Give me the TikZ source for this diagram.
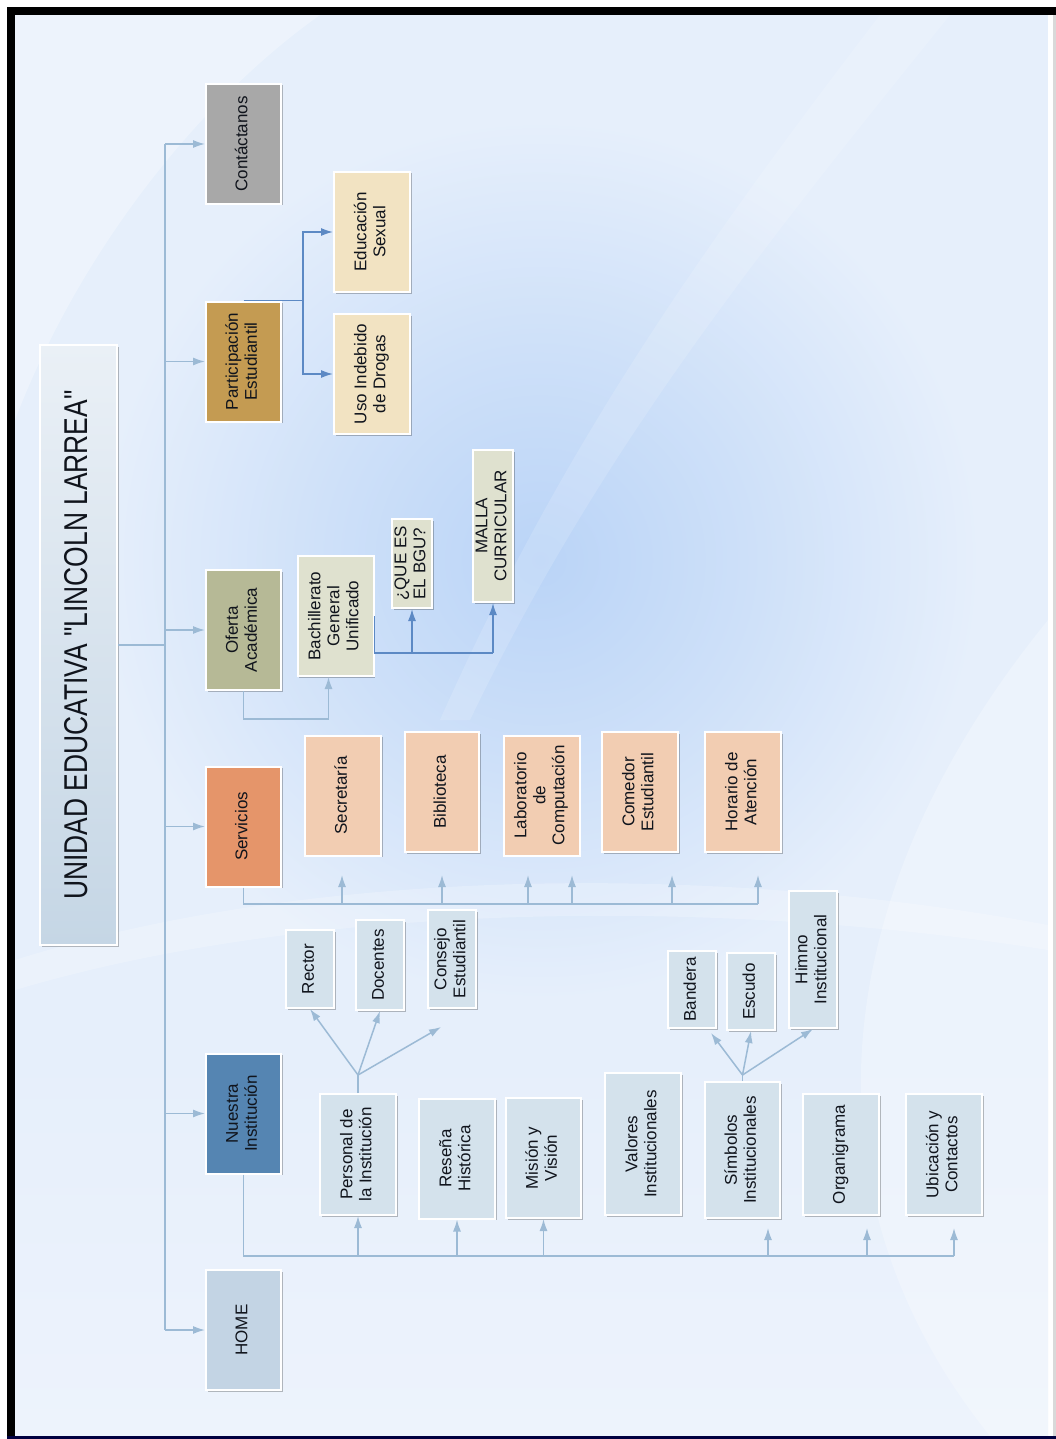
\documentclass[tikz,border=0pt]{standalone}
\usepackage{fontspec}
\setmainfont{Liberation Sans}
\newfontfamily\titlefont[FakeStretch=0.8]{Liberation Sans}
\usetikzlibrary{arrows.meta, positioning, calc, shadows}

\definecolor{bgmid}{HTML}{E6EFFB}
\definecolor{bgbot}{HTML}{EDF3FC}
\definecolor{glow}{HTML}{BAD4F7}
\definecolor{lnk}{HTML}{9CBAD5}
\definecolor{dlnk}{HTML}{5C89C4}
\definecolor{txt}{HTML}{10141C}
\definecolor{cgray}{HTML}{A8A8A8}
\definecolor{cpart}{HTML}{C49B52}
\definecolor{cofer}{HTML}{B6B996}
\definecolor{cserv}{HTML}{E5956A}
\definecolor{cnues}{HTML}{5585B2}
\definecolor{chome}{HTML}{C3D4E4}
\definecolor{kpart}{HTML}{F2E3C2}
\definecolor{kofer}{HTML}{DFE1CF}
\definecolor{kserv}{HTML}{F2CDB2}
\definecolor{knues}{HTML}{D4E2EC}
\definecolor{ttop}{HTML}{EAF0F6}
\definecolor{tbot}{HTML}{C5D6E5}

\pgfdeclareradialshading{glowshade}{\pgfpoint{0bp}{0bp}}{%
  color(0bp)=(glow); color(12bp)=(glow!55!bgmid); color(25bp)=(bgmid); color(50bp)=(bgmid)}

% vertical (rotated) label
\newcommand{\vt}[1]{\rotatebox{90}{\begin{tabular}{@{}c@{}}#1\end{tabular}}}

\tikzset{
  box/.style={rectangle, draw=white, line width=2pt, inner sep=0pt, text=txt,
    font=\fontsize{17}{19}\selectfont,
    drop shadow={shadow xshift=1.5pt, shadow yshift=-1.5pt, opacity=0.25, fill=black}},
  lvl/.style={box, minimum width=75pt, minimum height=120pt},
  sub/.style={box, minimum width=76pt, minimum height=120pt},
  tiny/.style={box, minimum width=48pt},
}

\begin{document}
\begin{tikzpicture}[x=1pt, y=-1pt, >={Latex[length=12pt, width=8pt]},
  link/.style={draw=lnk, line width=1.5pt},
  arr/.style={link, ->},
  dlink/.style={draw=dlnk, line width=1.5pt},
  darr/.style={dlink, ->}]

\useasboundingbox (0,0) rectangle (1056,1439);

% Background
\fill[white] (0,0) rectangle (1056,1439);
\fill[bgmid] (15,15) rectangle (1048,1436);
\shade[shading=glowshade] (540,560) circle[radius=440pt];
\shade[top color=bgmid, bottom color=bgbot] (15,1050) rectangle (1048,1436);
\fill[white, opacity=0.22] (15,960) .. controls (300,870) and (700,860) .. (1048,925)
  -- (1048,950) .. controls (700,895) and (300,905) .. (15,990) -- cycle;
\fill[white, opacity=0.15] (880,15) .. controls (700,250) and (560,450) .. (440,720)
  -- (470,720) .. controls (600,450) and (760,250) .. (950,15) -- cycle;
\fill[white, opacity=0.25] (1048,620) .. controls (820,900) and (800,1200) .. (990,1436)
  -- (1048,1436) -- cycle;
\fill[white, opacity=0.3] (15,420) .. controls (80,250) and (200,100) .. (320,15)
  -- (15,15) -- cycle;

% Frame
\fill[black] (7,7) rectangle (1056,15);
\fill[black] (7,7) rectangle (15,1439);
\fill[black!75!blue] (7,1436) rectangle (1056,1439);
\fill[black!15] (1053,15) rectangle (1056,1436);

% Title
\node[box, top color=ttop, bottom color=tbot, minimum width=77pt, minimum height=600pt]
  (title) at (78.5,645) {\vt{\titlefont\fontsize{33}{36}\selectfont UNIDAD EDUCATIVA "LINCOLN LARREA"}};

% Main menu
\node[lvl, fill=cgray] (cont) at (243.5,144) {\vt{Contáctanos}};
\node[lvl, fill=cpart] (partic) at (243.5,361.5) {\vt{Participación\\Estudiantil}};
\node[lvl, fill=cofer] (oferta) at (243.5,630) {\vt{Oferta\\Académica}};
\node[lvl, fill=cserv] (serv) at (243.5,826.5) {\vt{Servicios}};
\node[lvl, fill=cnues] (nuestra) at (243.5,1113.5) {\vt{Nuestra\\Institución}};
\node[lvl, fill=chome] (home) at (243.5,1330) {\vt{HOME}};

% Participacion Estudiantil
\node[sub, fill=kpart] (sex) at (372,232) {\vt{Educación\\Sexual}};
\node[sub, fill=kpart] (drog) at (372,374) {\vt{Uso Indebido\\de Drogas}};

% Oferta Academica
\node[sub, fill=kofer] (bgu) at (335.5,616) {\vt{Bachillerato\\General\\Unificado}};
\node[box, fill=kofer, minimum width=40pt, minimum height=89pt] (que) at (412,563.5) {\vt{¿QUE ES\\EL BGU?}};
\node[box, fill=kofer, minimum width=40pt, minimum height=152pt] (malla) at (493,526) {\vt{MALLA\\CURRICULAR}};

% Servicios
\node[sub, fill=kserv] (secr) at (343,795.5) {\vt{Secretaría}};
\node[sub, fill=kserv, minimum width=74pt] (bibl) at (442,792) {\vt{Biblioteca}};
\node[sub, fill=kserv] (lab) at (541.5,795.5) {\vt{Laboratorio\\de\\Computación}};
\node[sub, fill=kserv] (com) at (640,792) {\vt{Comedor\\Estudiantil}};
\node[sub, fill=kserv] (hor) at (743,792) {\vt{Horario de\\Atención}};

% Nuestra Institucion
\node[sub, fill=knues, minimum height=121pt] (pers) at (358,1154.5) {\vt{Personal de\\la Institución}};
\node[sub, fill=knues] (res) at (457,1158.5) {\vt{Reseña\\Histórica}};
\node[sub, fill=knues, minimum width=75pt] (mis) at (543.5,1158) {\vt{Misión y\\Visión}};
\node[sub, fill=knues, minimum height=142pt] (val) at (643,1144) {\vt{Valores\\Institucionales}};
\node[sub, fill=knues, minimum width=75pt, minimum height=136pt] (simb) at (742.5,1150) {\vt{Símbolos\\Institucionales}};
\node[sub, fill=knues, minimum height=121pt] (org) at (841,1154.5) {\vt{Organigrama}};
\node[sub, fill=knues, minimum height=121pt] (ubi) at (944,1154.5) {\vt{Ubicación y\\Contactos}};

% Personal de la Institucion
\node[tiny, fill=knues, minimum height=78pt] (rec) at (310,969) {\vt{Rector}};
\node[tiny, fill=knues, minimum height=90pt] (doc) at (380,965) {\vt{Docentes}};
\node[tiny, fill=knues, minimum height=98pt] (cons) at (452,959) {\vt{Consejo\\Estudiantil}};

% Simbolos Institucionales
\node[tiny, fill=knues, minimum height=77pt] (band) at (692,989.5) {\vt{Bandera}};
\node[tiny, fill=knues, minimum height=77pt] (esc) at (751,991.5) {\vt{Escudo}};
\node[tiny, fill=knues, minimum height=137pt] (himno) at (813,959.5) {\vt{Himno\\Institucional}};

% Trunk
\coordinate (trunk) at (165,645);
\draw[link] (title.east) -- (trunk);
\draw[link] (trunk |- cont.west) -- (trunk |- home.west);
\foreach \n in {cont, partic, oferta, serv, nuestra, home}
  \draw[arr] (trunk |- \n.west) -- (\n.west);

% Participacion links
\draw[dlink] (partic.north) -- ++(59.5,0) coordinate (pj);
\draw[darr] (pj) |- (sex.west);
\draw[darr] (pj) |- (drog.west);

% Oferta links
\draw[arr] (oferta.south) -- ++(0,28) -| ([xshift=-7pt]bgu.south);
\draw[dlink] (bgu.east) -- ++(0,37) coordinate (bj) -- (bj -| malla.south);
\draw[darr] (bj -| que.south) -- (que.south);
\draw[darr] (bj -| malla.south) -- (malla.south);

% Servicios links
\draw[link] (serv.south) -- ++(0,16.5) coordinate (sj) -- ++(514.5,0);
\foreach \x in {342,442,528,572,672,758} {
  \coordinate (st) at (\x,875);
  \draw[arr] (st |- sj) -- (st);
}

% Nuestra Institucion links
\draw[link] (nuestra.south) -- ++(0,81.5) coordinate (nj) -- ++(710.5,0);
\foreach \n in {pers, res, mis}
  \draw[arr] (nj -| \n.south) -- (\n.south);
\foreach \x in {768,867,954} {
  \coordinate (nt) at (\x,1228);
  \draw[arr] (nt |- nj) -- (nt);
}

% Fans
\coordinate (pf) at (358,1075);
\coordinate (cf) at (441,1027);
\draw[link] (pers.north) -- (pf);
\draw[arr] (pf) -- (rec.south);
\draw[arr] (pf) -- (doc.south);
\draw[arr] (pf) -- (cf);

\coordinate (sf) at (742.5,1075);
\coordinate (bf) at (711,1033);
\draw[link] (simb.north) -- (sf);
\draw[arr] (sf) -- (bf);
\draw[arr] (sf) -- (esc.south);
\draw[arr] (sf) -- (himno.south);

\end{tikzpicture}
\end{document}
